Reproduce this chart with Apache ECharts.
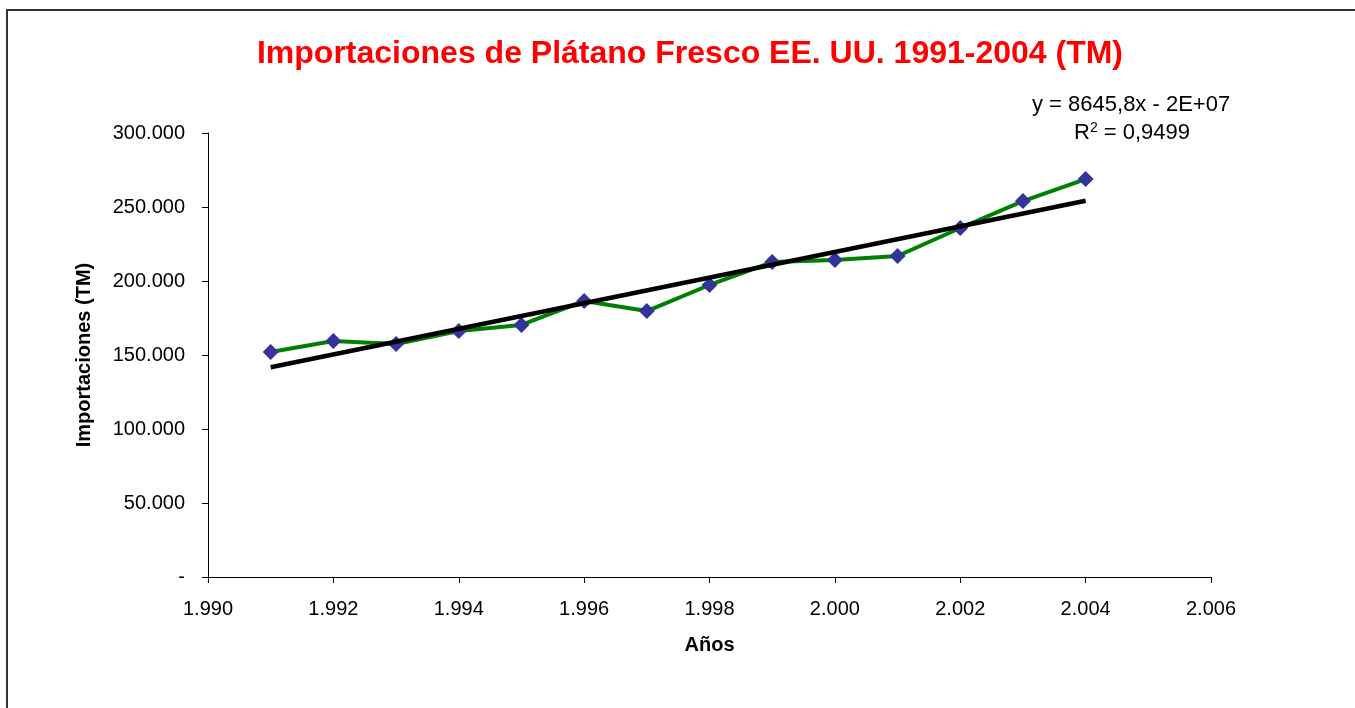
<!DOCTYPE html>
<html>
<head>
<meta charset="utf-8">
<script src="https://cdn.jsdelivr.net/npm/echarts@6/dist/echarts.min.js"></script>
<style>
  html, body { margin: 0; padding: 0; background: #fff; }
  #chart { width: 1355px; height: 708px; }
</style>
</head>
<body>
<div id="chart"></div>
<script>
// años y toneladas métricas importadas
const years = [1991, 1992, 1993, 1994, 1995, 1996, 1997, 1998, 1999, 2000, 2001, 2002, 2003, 2004];
const imports = [152000, 159500, 157400, 166200, 170300, 186500, 179700, 197300, 212800, 214200, 216900, 235800, 254000, 268900];
const eqText = 'y = 8645,8x - 2E+07';
const r2Text = '0,9499';

// tendencia lineal por minimos cuadrados
function linearFit (xs, ys) {
  let n = xs.length, sx = 0, sy = 0, sxy = 0, sxx = 0;
  for (let i = 0; i < n; i++) {
    sx += xs[i]; sy += ys[i]; sxy += xs[i] * ys[i]; sxx += xs[i] * xs[i];
  }
  const m = (n * sxy - sx * sy) / (n * sxx - sx * sx);
  const b = (sy - m * sx) / n;
  return { m, b };
}
const fit = linearFit(years, imports);
const trend = [years[0], years[years.length - 1]].map(x => [x, fit.m * x + fit.b]);

const fmt = v => v === 0 ? '-' : String(Math.round(v)).replace(/\B(?=(\d{3})+(?!\d))/g, '.');

const chart = echarts.init(document.getElementById('chart'));
const font = 'Liberation Sans, Arial, sans-serif';
chart.setOption({
  animation: false,
  textStyle: { fontFamily: font },
  title: {
    text: 'Importaciones de Plátano Fresco EE. UU. 1991-2004 (TM)',
    left: 685, top: 33, textAlign: 'center',
    textStyle: { color: '#ff0000', fontSize: 32, fontWeight: 'bold', fontFamily: font }
  },
  grid: { left: 208, top: 133, right: 144, bottom: 131 },
  xAxis: {
    type: 'value', min: 1990, max: 2006, interval: 2,
    name: 'Años', nameLocation: 'middle', nameGap: 58,
    nameTextStyle: { fontSize: 20, fontWeight: 'bold', color: '#000', fontFamily: font },
    axisLine: { lineStyle: { color: '#000', width: 1 } },
    axisTick: { show: true, length: 6, lineStyle: { color: '#000' } },
    axisLabel: { formatter: fmt, fontSize: 20, color: '#000', margin: 22, fontFamily: font },
    splitLine: { show: false }
  },
  yAxis: {
    type: 'value', min: 0, max: 300000, interval: 50000,
    name: 'Importaciones (TM)', nameLocation: 'middle', nameGap: 114, nameRotate: 90,
    nameTextStyle: { fontSize: 20, fontWeight: 'bold', color: '#000', fontFamily: font },
    axisLine: { show: true, lineStyle: { color: '#000', width: 1 } },
    axisTick: { show: true, length: 6, lineStyle: { color: '#000' } },
    axisLabel: { formatter: fmt, fontSize: 20, color: '#000', margin: 23, fontFamily: font },
    splitLine: { show: false }
  },
  series: [
    {
      name: 'Importaciones',
      type: 'line',
      data: years.map((y, i) => [y, imports[i]]),
      symbol: 'diamond', symbolSize: 16,
      lineStyle: { color: '#008000', width: 4 },
      itemStyle: { color: '#333399' },
      z: 2
    },
    {
      name: 'Tendencia',
      type: 'line',
      data: trend,
      symbol: 'none',
      lineStyle: { color: '#000', width: 4.5 },
      z: 3
    }
  ],
  graphic: [
    {
      type: 'rect', silent: true,
      shape: { x: 7, y: 10, width: 1360, height: 710 },
      style: { fill: 'none', stroke: '#333', lineWidth: 2 }
    },
    {
      type: 'text', left: 1032, top: 94,
      style: { text: eqText, font: '22px ' + font, fill: '#000' }
    },
    {
      type: 'text', left: 1074, top: 121,
      style: {
        text: '{a|R}{s|2}{a| = ' + r2Text + '}',
        rich: {
          a: { fontSize: 22, fontFamily: font, color: '#000' },
          s: { fontSize: 14, fontFamily: font, color: '#000', verticalAlign: 'top', padding: [0, 0, 10, 0] }
        }
      }
    }
  ]
});
window.addEventListener('resize', () => chart.resize());
</script>
</body>
</html>
